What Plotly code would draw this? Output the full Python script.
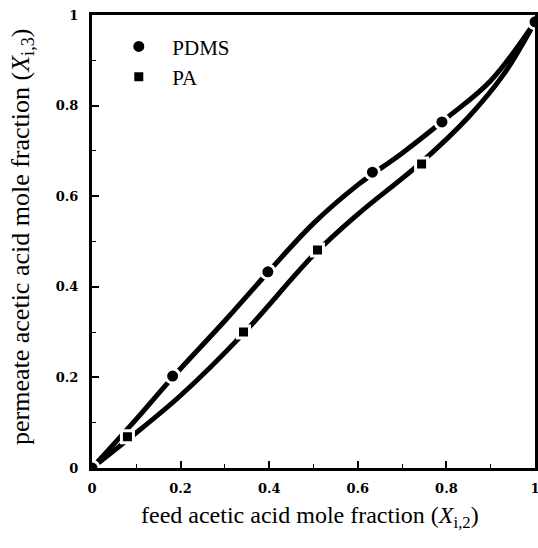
import plotly.graph_objects as go

# measured points
pdms_x = [0.0, 0.182, 0.397, 0.633, 0.79, 1.0]
pdms_y = [0.0, 0.203, 0.433, 0.653, 0.764, 0.985]
pa_x = [0.08, 0.342, 0.509, 0.744]
pa_y = [0.069, 0.30, 0.481, 0.671]

# fitted curves
pdms_fit_x = [0.0, 0.1, 0.18, 0.3, 0.4, 0.5, 0.6, 0.7, 0.8, 0.9, 1.0]
pdms_fit_y = [0.0, 0.108, 0.198, 0.325, 0.435, 0.54, 0.625, 0.695, 0.772, 0.855, 0.985]
pa_fit_x = [0.0, 0.08, 0.2, 0.34, 0.5, 0.6, 0.74, 0.85, 0.93, 1.0]
pa_fit_y = [0.0, 0.062, 0.16, 0.295, 0.47, 0.56, 0.672, 0.775, 0.87, 0.985]

tick_vals = [0, 0.2, 0.4, 0.6, 0.8, 1]
tick_text = ["0", "0.2", "0.4", "0.6", "0.8", "1"]

x_title = "feed acetic acid mole fraction (<i>X</i><sub>i,2</sub>)"
y_title = "permeate acetic acid mole fraction (<i>X</i><sub>i,3</sub>)"

fig = go.Figure()
for fx, fy in [(pdms_fit_x, pdms_fit_y), (pa_fit_x, pa_fit_y)]:
    fig.add_trace(go.Scatter(x=fx, y=fy, mode="lines", line=dict(color="black", width=5, shape="spline", smoothing=1.0),
                             showlegend=False, hoverinfo="skip"))
fig.add_trace(go.Scatter(x=pdms_x, y=pdms_y, mode="markers", name="PDMS",
                         marker=dict(symbol="circle", size=14, color="black", line=dict(color="white", width=3))))
fig.add_trace(go.Scatter(x=pa_x, y=pa_y, mode="markers", name="PA",
                         marker=dict(symbol="square", size=12, color="black", line=dict(color="white", width=3))))

axis_common = dict(
    range=[0, 1], tickvals=tick_vals, ticktext=tick_text, ticks="inside", ticklen=7, tickwidth=1.5,
    tickcolor="black", showline=True, linewidth=3, linecolor="black", mirror=True, showgrid=False,
    zeroline=False, automargin=False, ticklabeloverflow="allow",
    tickfont=dict(family="DejaVu Serif", size=13, color="black", weight="bold"),
    minor=dict(ticks="inside", ticklen=4, tickwidth=1, tickcolor="black", dtick=0.1),
)
fig.update_xaxes(**axis_common, ticklabelstandoff=6)
fig.update_yaxes(**axis_common, ticklabelstandoff=8)

fig.add_annotation(text=x_title, xref="paper", yref="paper", x=0.492, y=-0.108,
                   showarrow=False, xanchor="center", yanchor="middle",
                   font=dict(family="Liberation Serif", size=24, color="black"))
fig.add_annotation(text=y_title, xref="paper", yref="paper", x=-0.158, y=0.51, textangle=-90,
                   showarrow=False, xanchor="center", yanchor="middle",
                   font=dict(family="Liberation Serif", size=26, color="black"))

fig.update_layout(
    width=538, height=548, margin=dict(l=92, r=3, t=15, b=80, autoexpand=False),
    plot_bgcolor="white", paper_bgcolor="white",
    legend=dict(x=0.03, y=0.975, xanchor="left", yanchor="top", bgcolor="rgba(0,0,0,0)",
                font=dict(family="Liberation Serif", size=21, color="black"), itemwidth=57,
                tracegroupgap=0),
)
fig.write_html("out.html", config={"displayModeBar": False},
               post_script="document.body.style.margin='0';")
